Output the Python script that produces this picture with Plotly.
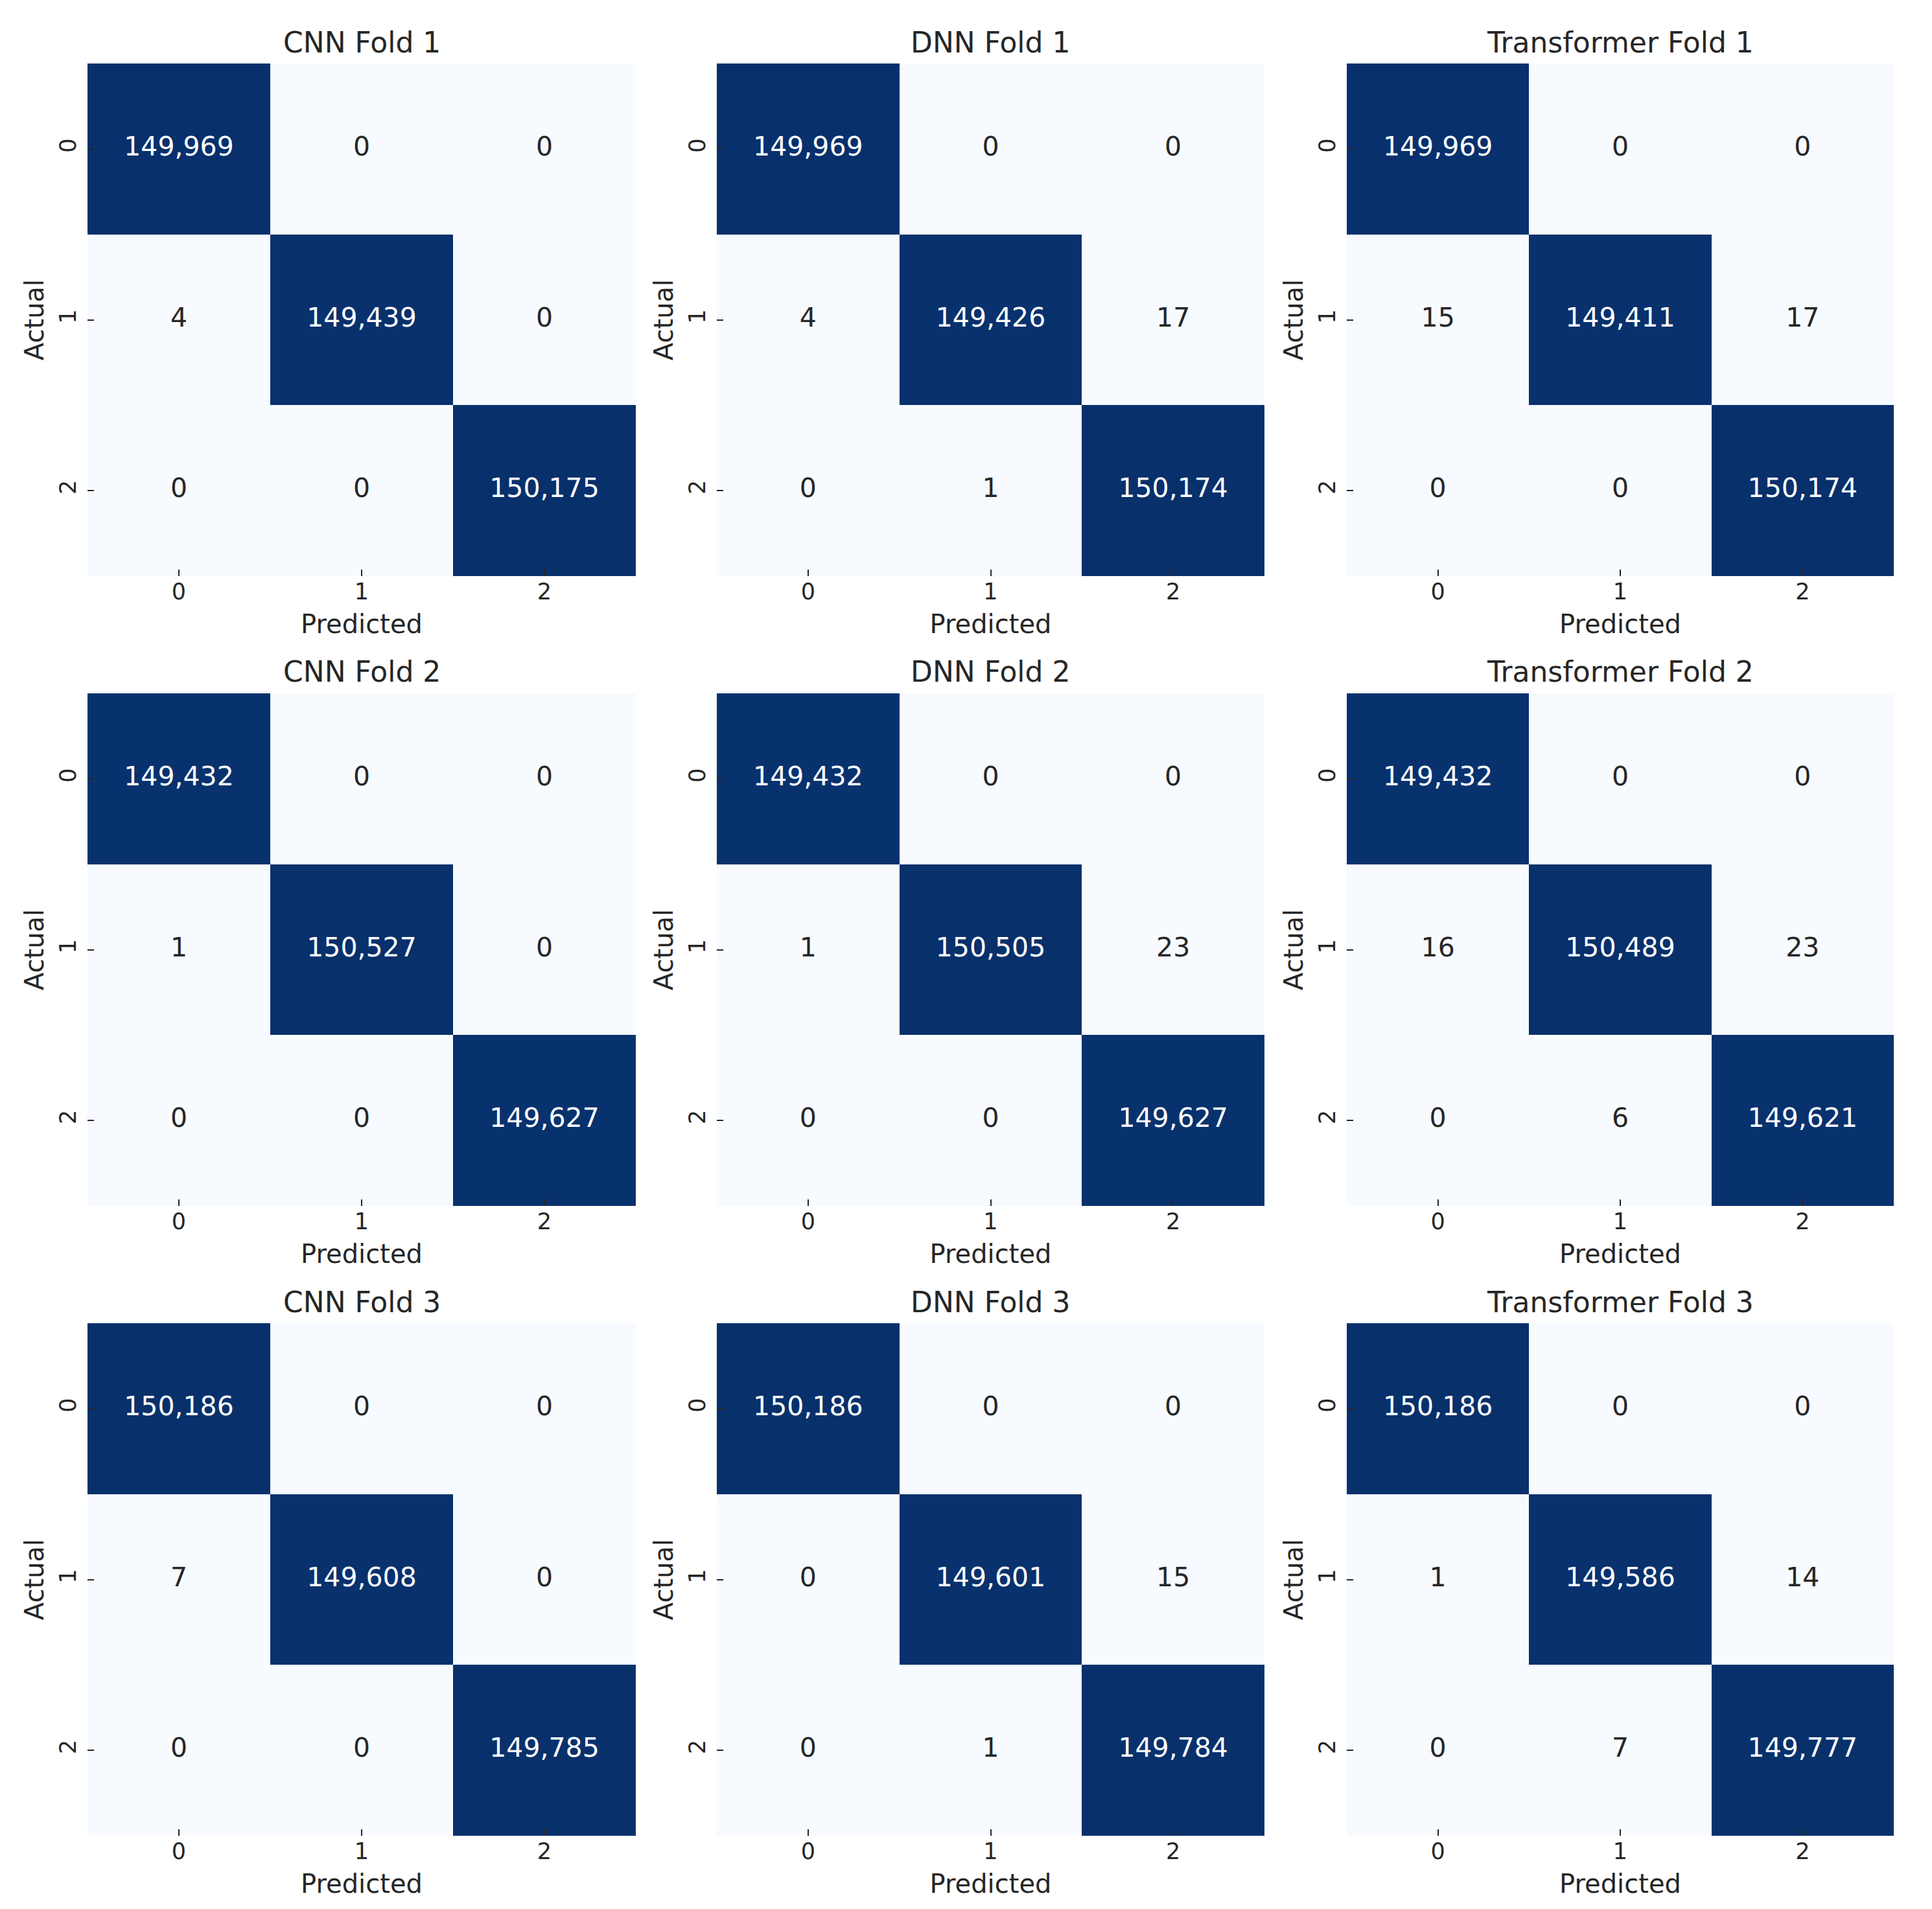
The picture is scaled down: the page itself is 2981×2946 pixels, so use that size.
import plotly.graph_objects as go
from plotly.subplots import make_subplots

# Confusion matrices: rows = actual, cols = predicted
models = ["CNN", "DNN", "Transformer"]
folds = [1, 2, 3]
labels = [0, 1, 2]

cnn_fold1 = [[149969, 0, 0], [4, 149439, 0], [0, 0, 150175]]
cnn_fold2 = [[149432, 0, 0], [1, 150527, 0], [0, 0, 149627]]
cnn_fold3 = [[150186, 0, 0], [7, 149608, 0], [0, 0, 149785]]

dnn_fold1 = [[149969, 0, 0], [4, 149426, 17], [0, 1, 150174]]
dnn_fold2 = [[149432, 0, 0], [1, 150505, 23], [0, 0, 149627]]
dnn_fold3 = [[150186, 0, 0], [0, 149601, 15], [0, 1, 149784]]

trf_fold1 = [[149969, 0, 0], [15, 149411, 17], [0, 0, 150174]]
trf_fold2 = [[149432, 0, 0], [16, 150489, 23], [0, 6, 149621]]
trf_fold3 = [[150186, 0, 0], [1, 149586, 14], [0, 7, 149777]]

matrices = {
    "CNN": [cnn_fold1, cnn_fold2, cnn_fold3],
    "DNN": [dnn_fold1, dnn_fold2, dnn_fold3],
    "Transformer": [trf_fold1, trf_fold2, trf_fold3],
}

# page body has an 8px margin, so the figure is a bit smaller than the window
PAD = 8
W, H = 2981 - 2 * PAD, 2946 - 2 * PAD
FONT = "DejaVu Sans"
INK = "#262626"

# colorbrewer Blues (same as matplotlib 'Blues')
blues = [
    [0.0, "#f7fbff"], [0.125, "#deebf7"], [0.25, "#c6dbef"],
    [0.375, "#9ecae1"], [0.5, "#6baed6"], [0.625, "#4292c6"],
    [0.75, "#2171b5"], [0.875, "#08519c"], [1.0, "#08306b"],
]

# axis boxes in window pixels (left, right) and (top, bottom)
col_px = [(135, 981), (1106, 1951), (2078, 2922)]
row_px = [(98, 889), (1070, 1861), (2042, 2833)]

fig = make_subplots(rows=3, cols=3)

for r, fold in enumerate(folds):
    for c, model in enumerate(models):
        z = matrices[model][r]
        zmax = max(max(row) for row in z)
        fig.add_trace(
            go.Heatmap(
                x=labels, y=labels, z=z,
                colorscale=blues, zmin=0, zmax=zmax,
                showscale=False, xgap=0, ygap=0,
                hovertemplate="Actual %{y}<br>Predicted %{x}<br>%{z:,}<extra></extra>",
            ),
            row=r + 1, col=c + 1,
        )
        xs, ys, txt, cols = [], [], [], []
        for i in range(3):
            for j in range(3):
                v = z[i][j]
                xs.append(labels[j])
                ys.append(labels[i])
                txt.append(f"{v:,}")
                cols.append("white" if v / zmax > 0.5 else INK)
        fig.add_trace(
            go.Scatter(
                x=xs, y=ys, text=txt, mode="text",
                textposition="middle center",
                textfont=dict(family=FONT, size=41, color=cols),
                hoverinfo="skip", showlegend=False,
            ),
            row=r + 1, col=c + 1,
        )

        idx = r * 3 + c + 1
        sfx = "" if idx == 1 else str(idx)
        l, rr = (p - PAD for p in col_px[c])
        t, b = (p - PAD for p in row_px[r])
        fig.layout["xaxis" + sfx].update(
            domain=[l / W, rr / W], range=[-0.5, 2.5],
            tickvals=labels, ticks="inside", ticklen=10, tickwidth=2,
            tickcolor=INK, tickfont=dict(family=FONT, size=35, color=INK),
            showgrid=False, zeroline=False, showline=False,
            title=dict(text="Predicted", font=dict(family=FONT, size=40, color=INK), standoff=16),
        )
        fig.layout["yaxis" + sfx].update(
            domain=[1 - b / H, 1 - t / H], range=[2.5, -0.5],
            tickvals=labels, ticks="inside", ticklen=10, tickwidth=2, tickangle=-90,
            ticklabelstandoff=10,
            tickcolor=INK, tickfont=dict(family=FONT, size=35, color=INK),
            showgrid=False, zeroline=False, showline=False,
            title=dict(text="Actual", font=dict(family=FONT, size=40, color=INK), standoff=5),
        )
        fig.add_annotation(
            text=f"{model} Fold {fold}",
            x=(l + rr) / 2 / W, y=1 - (t - 33) / H,
            xref="paper", yref="paper", showarrow=False,
            xanchor="center", yanchor="middle",
            font=dict(family=FONT, size=44, color=INK),
        )

fig.update_layout(
    width=W, height=H,
    margin=dict(l=0, r=0, t=0, b=0),
    paper_bgcolor="white", plot_bgcolor="white",
    showlegend=False,
)

fig.write_html("out.html")
